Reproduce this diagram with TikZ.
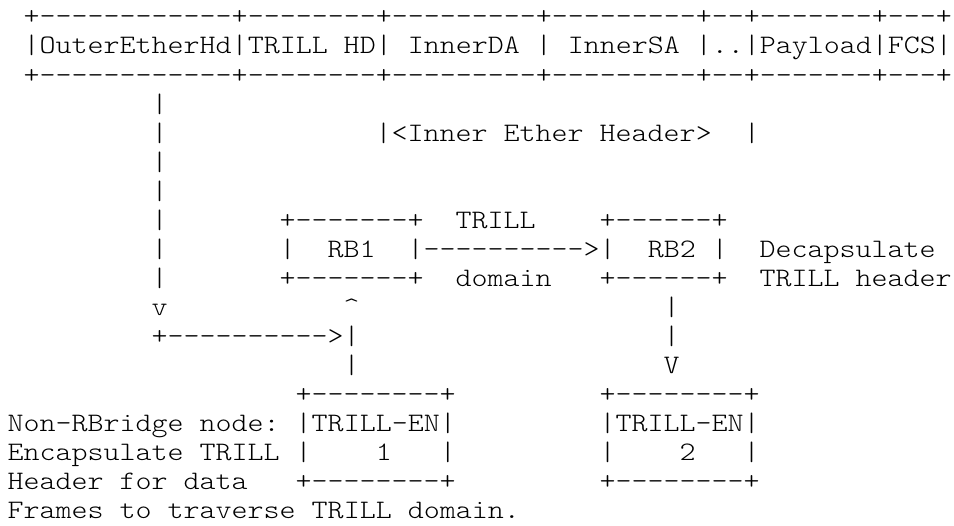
\documentclass[tikz,border=0pt]{standalone}
\usepackage{fontspec}
\setmonofont{lmmonolt10-regular.otf}[FakeStretch=1.143]
\tikzset{
    asciirow/.style={font=\ttfamily\frenchspacing\fontsize{26.67}{29.06}\selectfont, anchor=base west, inner sep=0pt, outer sep=0pt}
}
\begin{document}
\begin{tikzpicture}[x=16pt, y=29.06pt]
            % Page frame
            \useasboundingbox (-0.481,0.857) rectangle (59.144,-17.243);

            % Frame header fields
            \node[asciirow] (hdrtop) at (1,0) {+------------+--------+---------+---------+--+-------+---+};
            \node[asciirow] (hdr) at (1,-1) {|OuterEtherHd|TRILL HD|~InnerDA~|~InnerSA~|..|Payload|FCS|};
            \node[asciirow] (hdrbot) at (1,-2) {+------------+--------+---------+---------+--+-------+---+};

            % Drop from the outer header
            \node[asciirow] (dropa) at (9,-3) {|};
            \node[asciirow] (dropb) at (9,-4) {|};
            \node[asciirow] (inner) at (23,-4) {|<Inner Ether Header>~~|};
            \node[asciirow] (dropc) at (9,-5) {|};
            \node[asciirow] (dropd) at (9,-6) {|};

            % RBridges in the TRILL domain
            \node[asciirow] (drope) at (9,-7) {|};
            \node[asciirow] (rbonetop) at (17,-7) {+-------+};
            \node[asciirow] (trill) at (28,-7) {TRILL};
            \node[asciirow] (rbtwotop) at (37,-7) {+------+};
            \node[asciirow] (dropf) at (9,-8) {|};
            \node[asciirow] (rbline) at (17,-8) {|~~RB1~~|---------->|~~RB2~|};
            \node[asciirow] (decap) at (47,-8) {Decapsulate};
            \node[asciirow] (dropg) at (9,-9) {|};
            \node[asciirow] (rbonebot) at (17,-9) {+-------+};
            \node[asciirow] (domain) at (28,-9) {domain};
            \node[asciirow] (rbtwobot) at (37,-9) {+------+};
            \node[asciirow] (trillhdr) at (47,-9) {TRILL header};

            % Arrows between the end nodes and RBridges
            \node[asciirow] (downtip) at (9,-10) {v};
            \node[asciirow] (uptip) at (21,-10) {\textasciicircum};
            \node[asciirow] (rbtwoa) at (41,-10) {|};
            \node[asciirow] (across) at (9,-11) {+---------->|};
            \node[asciirow] (rbtwob) at (41,-11) {|};
            \node[asciirow] (upstem) at (21,-12) {|};
            \node[asciirow] (rbtwotip) at (41,-12) {V};

            % End nodes
            \node[asciirow] (enonetop) at (18,-13) {+--------+};
            \node[asciirow] (entwotop) at (37,-13) {+--------+};
            \node[asciirow] (noteone) at (0,-14) {Non-RBridge node: |TRILL-EN|};
            \node[asciirow] (entwoname) at (37,-14) {|TRILL-EN|};
            \node[asciirow] (notetwo) at (0,-15) {Encapsulate TRILL |~~~~1~~~|};
            \node[asciirow] (entwonum) at (37,-15) {|~~~~2~~~|};
            \node[asciirow] (notethree) at (0,-16) {Header for data};
            \node[asciirow] (enonebot) at (18,-16) {+--------+};
            \node[asciirow] (entwobot) at (37,-16) {+--------+};
            \node[asciirow] (notefour) at (0,-17) {Frames to traverse TRILL domain.};
        \end{tikzpicture}
\end{document}
